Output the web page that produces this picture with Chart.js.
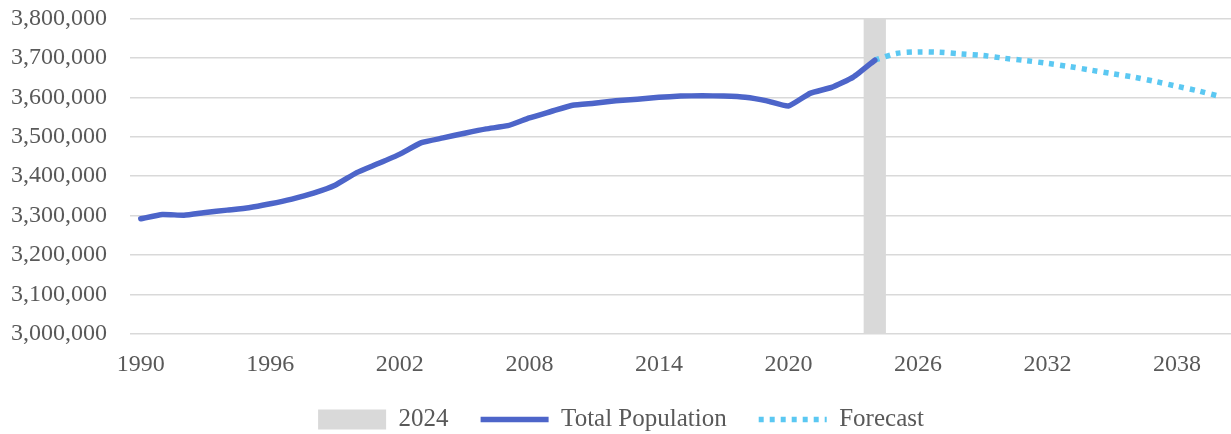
<!DOCTYPE html>
<html>
<head>
<meta charset="utf-8">
<script src="https://cdn.jsdelivr.net/npm/chart.js@4/dist/chart.umd.min.js"></script>
<style>
  html, body { margin: 0; padding: 0; background: #fff; }
  #wrap { width: 1231px; height: 434px; }
</style>
</head>
<body>
<div id="wrap"><canvas id="popChart"></canvas></div>
<script>
// years on the category axis
const years = []
for (let y = 1990; y <= 2040; y++) years.push(String(y))

// observed population 1990-2024
const totalPopulation = [
  3292000, 3303000, 3301000, 3308000, 3314000, 3320000, 3330000, 3342000, 3357000, 3377000,
  3409000, 3432000, 3456000, 3485000, 3497000, 3509000, 3520000, 3528000, 3548000, 3564000,
  3580000, 3585000, 3591000, 3595000, 3600000, 3603000, 3604000, 3603000, 3600000, 3591000,
  3578000, 3610000, 3625000, 3651000, 3694000
]

// forecast 2024-2040
const forecast = [
  3694000, 3711000, 3715000, 3714000, 3710000, 3706000, 3699000, 3693000, 3686000,
  3678000, 3669000, 3660000, 3651000, 3640000, 3628000, 3616000, 3602000
]

const highlightYear = '2024'
const highlightValue = 3800000

const yMin = 3000000
const yMax = 3800000
const yStep = 100000

// pad series out to the full range of years
const totalSeries = years.map((y, i) => i < totalPopulation.length ? totalPopulation[i] : null)
const forecastStart = years.indexOf('2024')
const forecastSeries = years.map((y, i) => i >= forecastStart ? forecast[i - forecastStart] : null)
const barSeries = years.map(y => y === highlightYear ? highlightValue : null)

const textColor = '#595959'
const fontFamily = '"Liberation Serif", "Times New Roman", serif'
const forecastDash = [5, 6]

var pop_chart = new Chart('popChart', {
  type: 'bar',
  data: {
    labels: years,
    datasets: [{
      type: 'bar',
      label: '2024',
      data: barSeries,
      backgroundColor: '#d9d9d9',
      borderWidth: 0,
      barPercentage: 1,
      categoryPercentage: 1,
      order: 3
    }, {
      type: 'line',
      label: 'Total Population',
      data: totalSeries,
      borderColor: '#4d65c9',
      backgroundColor: '#4d65c9',
      borderWidth: 5.5,
      pointRadius: 0,
      tension: 0.15,
      borderCapStyle: 'round',
      order: 1
    }, {
      type: 'line',
      label: 'Forecast',
      data: forecastSeries,
      borderColor: '#5bc8f2',
      backgroundColor: '#5bc8f2',
      borderWidth: 5.5,
      borderDash: forecastDash,
      pointRadius: 0,
      tension: 0.3,
      order: 2
    }]
  },
  options: {
    responsive: true,
    maintainAspectRatio: false,
    animation: false,
    layout: { padding: { left: 11, right: 0, top: 0, bottom: -8 } },
    plugins: {
      tooltip: { enabled: false },
      legend: {
        position: 'bottom',
        labels: {
          color: textColor,
          font: { family: fontFamily, size: 25 },
          usePointStyle: true,
          pointStyleWidth: 68,
          boxHeight: 20,
          padding: 32,
          sort: (a, b) => a.datasetIndex - b.datasetIndex,
          generateLabels: function (chart) {
            const items = Chart.defaults.plugins.legend.labels.generateLabels(chart)
            items.forEach(item => {
              if (item.datasetIndex === 0) {
                item.pointStyle = 'rect'
                item.lineWidth = 0
                item.strokeStyle = 'rgba(0,0,0,0)'
              } else {
                item.pointStyle = 'line'
                item.lineWidth = 5.5
                item.lineCap = 'butt'
                item.lineDash = item.datasetIndex === 2 ? forecastDash : []
              }
            })
            return items
          }
        }
      }
    },
    scales: {
      x: {
        offset: true,
        grid: { display: false },
        border: { display: false },
        afterFit: s => { s.height = 41 },
        ticks: {
          color: textColor,
          font: { family: fontFamily, size: 24 },
          autoSkip: false,
          maxRotation: 0,
          padding: 8,
          callback: function (val, index) {
            return index % 6 === 0 ? this.getLabelForValue(val) : ''
          }
        }
      },
      y: {
        min: yMin,
        max: yMax,
        border: { display: false },
        grid: { color: '#d9d9d9', lineWidth: 1.5, drawTicks: false },
        afterFit: s => { s.width = 119 },
        ticks: {
          stepSize: yStep,
          color: textColor,
          font: { family: fontFamily, size: 24 },
          padding: 4,
          crossAlign: 'far',
          callback: v => v.toLocaleString('en-US')
        }
      }
    }
  }
})
</script>
</body>
</html>
